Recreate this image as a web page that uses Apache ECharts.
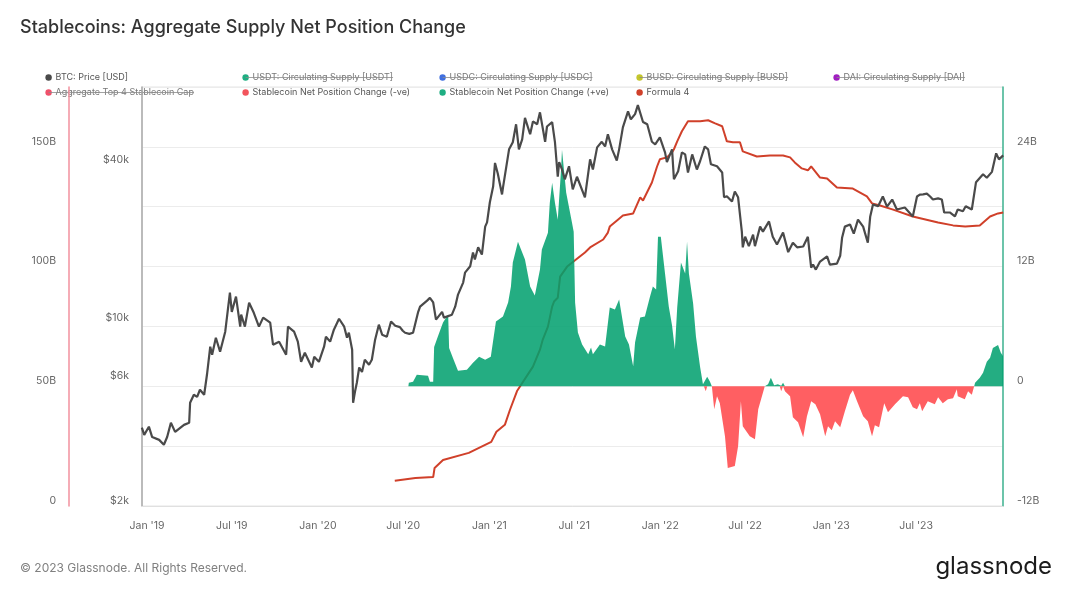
<!DOCTYPE html>
<html>
<head>
<meta charset="utf-8">
<title>Stablecoins: Aggregate Supply Net Position Change</title>
<script src="https://cdn.jsdelivr.net/npm/echarts@6/dist/echarts.min.js"></script>
<style>
html, body { margin: 0; padding: 0; background: #fff; }
#chart { width: 1072px; height: 595px; }
</style>
</head>
<body>
<div id="chart"></div>
<script>
// all days are counted from 1 Jan 2019
var priceDays = [-11,-6,4,11,26,36,43,51,60,79,90,92,100,107,113,122,128,135,139,147,156,167,177,181,190,199,201,209,218,228,239,248,263,269,282,297,301,314,322,329,337,352,357,367,378,382,391,399,410,421,427,431,438,440,444,448,453,459,465,474,480,487,495,502,512,521,530,540,546,551,560,568,579,583,598,604,611,617,630,634,651,658,664,675,679,690,696,700,707,715,722,726,732,739,743,749,758,760,773,781,788,794,801,807,818,824,833,839,850,854,865,871,877,880,886,892,901,909,918,935,946,952,961,971,978,984,993,1003,1008,1016,1027,1033,1042,1048,1059,1068,1078,1085,1095,1106,1110,1121,1125,1134,1142,1149,1155,1164,1174,1181,1191,1198,1204,1217,1228,1232,1238,1249,1255,1262,1270,1272,1277,1285,1294,1298,1309,1315,1328,1336,1345,1358,1369,1379,1388,1401,1411,1418,1422,1428,1437,1452,1458,1473,1480,1484,1490,1501,1509,1518,1529,1539,1544,1550,1561,1571,1580,1591,1601,1618,1635,1644,1650,1657,1665,1672,1678,1689,1697,1702,1714,1725,1731,1742,1748,1761,1770,1785,1793,1804,1813,1819,1828];
var priceValues = [3990,3740,4020,3670,3580,3430,3670,4160,3840,4085,4160,4960,5325,5230,5565,5325,6350,8130,7575,8800,7780,9280,13100,11050,12640,9700,10780,9700,11980,10960,9700,10500,10050,8275,8500,7575,9700,9280,8500,7120,7710,6770,7440,7120,8130,8880,8500,9445,10400,9700,8800,9200,7920,4960,5470,5920,6770,6510,7250,6940,7250,8650,9870,9040,8880,10150,9780,9660,9360,9190,9100,9190,11050,11570,12200,12500,12000,10320,11050,10500,10780,11570,12860,14300,15600,16500,18630,17510,19500,18300,23400,24300,29000,33300,41000,37300,31070,33000,46200,49200,57630,46200,50480,61000,52760,59100,57630,64000,49400,56500,58700,49200,36300,41300,38700,35500,39800,32500,36300,30300,42300,38700,47000,49400,47400,52800,46200,41900,46200,56100,64500,60200,63000,68200,58800,57600,49400,48300,51300,45000,41300,46200,35500,38100,45000,44200,37700,44200,38700,41700,47400,46200,40500,39800,37700,30300,30600,29200,31900,30300,22400,19500,21400,19700,21800,19700,23400,22400,24500,21400,19990,22200,18700,20300,19500,19650,21400,16300,16760,16030,17200,18000,16760,16900,18100,21200,23400,23850,22000,24900,23400,20300,25500,28450,28000,30500,27900,29700,27200,27700,25600,30500,31000,31100,31300,30500,29700,30000,29700,26500,26500,25600,27200,26800,28000,27200,34600,37100,36000,37900,44600,42300,43800];

var supplyDays = [529,573,611,614,632,687,735,746,764,775,790,824,839,845,856,865,869,877,882,897,935,946,974,984,988,1006,1016,1038,1053,1059,1078,1089,1095,1110,1121,1125,1132,1142,1155,1181,1198,1213,1228,1232,1238,1251,1266,1272,1302,1330,1358,1373,1383,1398,1411,1418,1437,1452,1473,1507,1537,1548,1565,1593,1635,1689,1721,1747,1778,1800,1817,1828];
var supplyValues = [10.5,11.7,12.1,15.9,19.2,22.2,26.8,31,33.9,40.2,48,58.2,65.3,69.5,74.9,83.3,85.4,87,95.8,100,105.9,108,111.3,114.2,116.7,119.7,121.3,122.2,128.9,127.6,135.1,141.8,144.8,145.6,147.7,149,152.3,156.5,160.7,160.7,161.1,159.8,158.6,156.1,152.3,151.9,151.9,148.1,146,146.4,146.4,145.6,143.5,141,140.2,141.8,137.2,136.8,133,132.6,129.3,126.4,125.5,123.8,120.9,118.4,117.2,116.7,117.2,120.9,122.2,122.6];

var gainDays = [558,559,568,576,600,604,611,613,621,632,643,645,653,664,683,696,709,722,734,745,760,771,777,781,792,796,807,818,828,839,843,856,860,865,871,877,884,886,895,907,911,914,920,929,942,948,952,967,978,988,999,1008,1021,1029,1038,1042,1053,1063,1074,1080,1087,1091,1097,1106,1114,1121,1125,1127,1132,1140,1149,1153,1157,1166,1172,1181,1187,1189,1196,1202,1206,1319,1326,1332,1339,1347,1354,1358,1362,1766,1768,1778,1785,1793,1800,1806,1817,1823,1828];
var gainValues = [0,0.35,0.45,1.15,1.05,0.45,0.45,3.95,5,6.4,7.2,3.85,2.85,1.55,1.65,2.35,2.95,2.65,2.95,6.5,7,8.4,10,12.4,14.5,14.5,12.7,10,9.1,11.7,13.7,15.4,18.4,20.4,18.4,16.7,21.7,23.7,19.4,16.5,15.5,8.4,5.4,4.2,3.2,3.9,3.2,4.2,4,7.9,7.7,8.7,5,4.2,2,4.4,6.9,7,9,10,9.7,15,15,11.3,8,6.1,6.1,3.7,7.9,12.4,11.3,14.5,11.3,8.3,5,1.9,0.2,0,0.95,0.45,0,0,0.2,0.85,0.1,0.2,0.05,0.35,0,0,0.35,0.85,1.35,2.45,2.85,3.85,4.15,3.35,3];

var lossDays = [1189,1193,1196,1206,1211,1217,1223,1234,1240,1255,1262,1268,1272,1287,1298,1305,1319,1351,1354,1358,1362,1373,1379,1390,1401,1409,1418,1427,1437,1448,1454,1462,1469,1480,1490,1501,1507,1516,1529,1539,1548,1554,1563,1574,1582,1597,1614,1625,1635,1644,1650,1655,1667,1682,1689,1699,1710,1721,1729,1731,1746,1753,1761,1766];
var lossValues = [0,-0.5,0,0,-2.3,-1,-1.7,-5,-8.2,-8,-6,-1.5,-4,-5,-5.3,-2.3,0,0,-0.5,0,-0.5,-1,-3.1,-3.6,-5.1,-3,-1.5,-1.8,-2.8,-5,-4,-4.4,-3.5,-4.1,-2.5,-0.85,-0.4,-1.5,-3,-3.5,-5,-3.9,-4.1,-1.7,-2.6,-1.8,-1,-1.1,-2.1,-2.3,-1.7,-2.5,-1.5,-1.8,-1.1,-1.7,-1.3,-1.2,-0.3,-1,-1.3,-0.5,-0.85,0];

var monthTicks = ['2019-01-01','2019-07-01','2020-01-01','2020-07-01','2021-01-01','2021-07-01','2022-01-01','2022-07-01','2023-01-01','2023-07-01'];
var monthLabels = ["Jan '19","Jul '19","Jan '20","Jul '20","Jan '21","Jul '21","Jan '22","Jul '22","Jan '23","Jul '23"];
var priceTicks = [2000, 6000, 10000, 40000];
var netTicks = [-12, 0, 12, 24];

var legendItems = [
    ['BTC: Price [USD]', '#4a4a4a', false],
    ['USDT: Circulating Supply [USDT]', '#1fae82', true],
    ['USDC: Circulating Supply [USDC]', '#3f6fe0', true],
    ['BUSD: Circulating Supply [BUSD]', '#c4c62c', true],
    ['DAI: Circulating Supply [DAI]', '#a01fc0', true],
    ['Aggregate Top 4 Stablecoin Cap', '#f0506a', true],
    ['Stablecoin Net Position Change (-ve)', '#f2545c', false],
    ['Stablecoin Net Position Change (+ve)', '#1fae82', false],
    ['Formula 4', '#d0402a', false]
];

var day0 = Date.UTC(2019, 0, 1);
var oneDay = 86400000;
var toPairs = function(days, values) {
    return days.map(function(d, i) {
        return [day0 + d * oneDay, values[i]];
    });
};
var tickTimes = monthTicks.map(function(s) {
    return new Date(s + 'T00:00:00Z').getTime();
});

var fontName = 'Inter, "Noto Sans", sans-serif';
var measure = document.createElement('canvas').getContext('2d');
measure.font = '9px Inter';

// legend is five columns by two rows, struck through items are switched off
var graphics = [];
legendItems.forEach(function(item, i) {
    var x = 48.6 + (i % 5) * 197;
    var y = i < 5 ? 77.5 : 92.5;
    graphics.push({
        type: 'circle',
        shape: { cx: x, cy: y, r: 3.2 },
        style: { fill: item[1] }
    }, {
        type: 'text',
        x: x + 7,
        y: y,
        style: { text: item[0], fill: item[2] ? '#777' : '#555', font: '9px ' + fontName, verticalAlign: 'middle' }
    });
    if (item[2]) {
        graphics.push({
            type: 'line',
            shape: { x1: x, y1: y, x2: x + 7 + measure.measureText(item[0]).width, y2: y },
            style: { stroke: '#8a8a8a', lineWidth: 0.8 }
        });
    }
});
graphics.push({
    type: 'text',
    x: 20,
    y: 568,
    style: { text: '© 2023 Glassnode. All Rights Reserved.', fill: '#808080', font: '12px ' + fontName, verticalAlign: 'middle' }
}, {
    type: 'text',
    x: 1052,
    y: 567,
    style: { text: 'glassnode', fill: '#1c1c1c', font: '400 24px ' + fontName, align: 'right', verticalAlign: 'middle' }
});

var labelStyle = { color: '#666', fontSize: 10.5, fontFamily: fontName };

var option = {
    backgroundColor: '#fff',
    animation: false,
    title: {
        text: 'Stablecoins: Aggregate Supply Net Position Change',
        left: 20,
        top: 19,
        padding: 0,
        textStyle: { color: '#333', fontSize: 18, fontWeight: 500, fontFamily: fontName }
    },
    grid: { left: 142, right: 69, top: 87, bottom: 89, show: true, borderColor: '#e4e4e4', borderWidth: 1 },
    graphic: graphics,
    xAxis: {
        // dates as plain timestamps, so the half year ticks can be given directly
        type: 'value',
        min: day0 - 10.7 * oneDay,
        max: day0 + 1827.6 * oneDay,
        axisLine: { show: true, lineStyle: { color: '#e0e0e0' } },
        axisTick: { show: false },
        splitLine: { show: false },
        axisLabel: Object.assign({}, labelStyle, {
            margin: 14,
            hideOverlap: false,
            customValues: tickTimes,
            formatter: function(v) {
                return monthLabels[tickTimes.indexOf(v)];
            }
        })
    },
    yAxis: [{
        // supply, far left
        type: 'value',
        position: 'left',
        offset: 73,
        min: 0,
        max: 175,
        interval: 50,
        axisLine: { show: true, onZero: false, lineStyle: { color: '#f2909e', width: 1.5 } },
        axisTick: { show: false },
        splitLine: { show: false },
        axisLabel: Object.assign({}, labelStyle, {
            margin: 13,
            verticalAlign: 'bottom',
            showMaxLabel: false,
            formatter: function(v) {
                return v === 0 ? '0' : v + 'B';
            }
        })
    }, {
        // price
        type: 'log',
        position: 'left',
        min: 2000,
        max: 80000,
        axisLine: { show: true, lineStyle: { color: '#a8a8a8', width: 1.5 } },
        axisTick: { show: false },
        splitLine: { show: false },
        axisLabel: Object.assign({}, labelStyle, {
            margin: 13,
            verticalAlign: 'bottom',
            customValues: priceTicks,
            formatter: function(v) {
                return '$' + Math.round(v / 1000) + 'k';
            }
        })
    }, {
        // net position change
        type: 'value',
        position: 'right',
        min: -12,
        max: 30,
        interval: 6,
        axisLine: { show: true, lineStyle: { color: '#3fb592', width: 1.5 } },
        axisTick: { show: false },
        splitLine: { show: true, lineStyle: { color: '#ececec', width: 1 } },
        axisLabel: Object.assign({}, labelStyle, {
            margin: 14,
            verticalAlign: 'bottom',
            customValues: netTicks,
            formatter: function(v) {
                return v === 0 ? '0' : v + 'B';
            }
        })
    }],
    series: [{
        name: 'Formula 4',
        type: 'line',
        yAxisIndex: 0,
        z: 2,
        showSymbol: false,
        lineStyle: { color: '#d0402a', width: 2 },
        data: toPairs(supplyDays, supplyValues)
    }, {
        name: 'Stablecoin Net Position Change (+ve)',
        type: 'line',
        yAxisIndex: 2,
        z: 3,
        showSymbol: false,
        lineStyle: { width: 0 },
        areaStyle: { color: '#00a06e', opacity: 0.86 },
        data: toPairs(gainDays, gainValues)
    }, {
        name: 'Stablecoin Net Position Change (-ve)',
        type: 'line',
        yAxisIndex: 2,
        z: 3,
        showSymbol: false,
        lineStyle: { width: 0 },
        areaStyle: { color: '#ff5f62', opacity: 1 },
        data: toPairs(lossDays, lossValues)
    }, {
        name: 'BTC: Price [USD]',
        type: 'line',
        yAxisIndex: 1,
        z: 4,
        showSymbol: false,
        lineStyle: { color: '#4a4a4a', width: 2.2 },
        data: toPairs(priceDays, priceValues)
    }]
};

var myChart = echarts.init(document.getElementById('chart'));
myChart.setOption(option);
</script>
</body>
</html>
